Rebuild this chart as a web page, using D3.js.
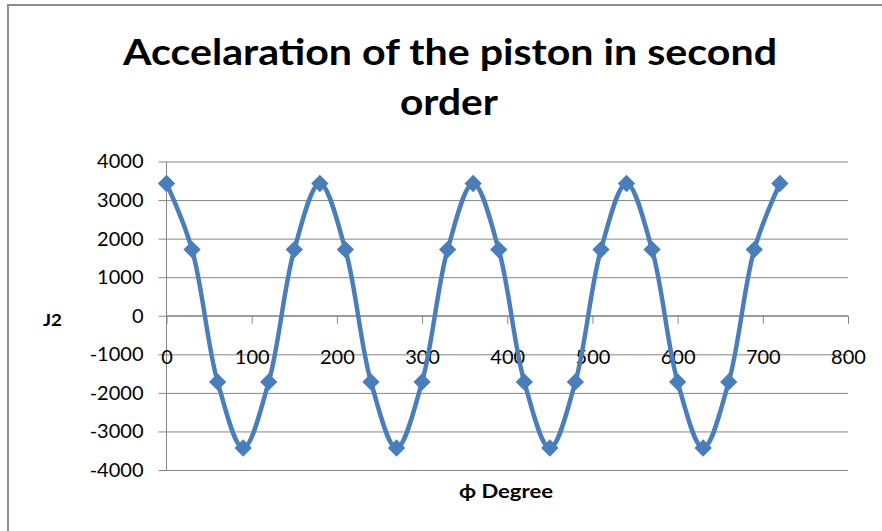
<!DOCTYPE html>
<html>
<head>
<meta charset="utf-8">
<script src="https://cdn.jsdelivr.net/npm/d3@7"></script>
<style>
  html, body { margin: 0; padding: 0; background: #ffffff; }
  svg { display: block; }
  text { font-family: Lato, "Open Sans", sans-serif; fill: #000; }
</style>
</head>
<body>
<svg id="chart" width="882" height="531"></svg>
<script>
// ---- data ----
const titleLines = ["Accelaration of the piston in second", "order"];
const xLabel = "\u03D5 Degree";
const yLabel = "J2";
const angles = [0, 30, 60, 90, 120, 150, 180, 210, 240, 270, 300, 330, 360,
                390, 420, 450, 480, 510, 540, 570, 600, 630, 660, 690, 720];
const j2 = [3430, 1715, -1715, -3430, -1715, 1715, 3430, 1715, -1715, -3430, -1715, 1715, 3430,
            1715, -1715, -3430, -1715, 1715, 3430, 1715, -1715, -3430, -1715, 1715, 3430];
const xTicks = [0, 100, 200, 300, 400, 500, 600, 700, 800];
const yTicks = [-4000, -3000, -2000, -1000, 0, 1000, 2000, 3000, 4000];

const svg = d3.select("#chart");
const gridColor = "#868686";
const lineColor = "#4A7EBB";

// outer frame (only top & left visible)
svg.append("path")
  .attr("d", "M8,531 L8,5 L882,5")
  .attr("fill", "none")
  .attr("stroke", "#8c8c8c")
  .attr("stroke-width", 2);

const x = d3.scaleLinear().domain([0, 800]).range([166.5, 848]);
const y = d3.scaleLinear().domain([-4000, 4000]).range([470, 161.5]);
const fmt = d => String(d);

// y axis with gridlines
const yAxis = svg.append("g")
  .attr("transform", `translate(${x(0)},0)`)
  .call(d3.axisLeft(y).tickValues(yTicks).tickSize(-(x(800) - x(0))).tickPadding(0).tickFormat(fmt));
yAxis.select(".domain").remove();
yAxis.selectAll(".tick line").attr("stroke", gridColor).attr("x1", -8);
yAxis.selectAll(".tick text")
  .attr("x", -23)
  .attr("font-size", 20)
  .attr("font-family", "Lato, sans-serif")
  .attr("fill", "#000");
// y axis line
svg.append("line")
  .attr("x1", x(0)).attr("x2", x(0))
  .attr("y1", y(4000)).attr("y2", y(-4000))
  .attr("stroke", gridColor);

// x axis at y=0
const xAxis = svg.append("g")
  .attr("transform", `translate(0,${y(0)})`)
  .call(d3.axisBottom(x).tickValues(xTicks).tickSize(8).tickPadding(26).tickFormat(fmt));
xAxis.select(".domain").attr("stroke", gridColor).attr("d", `M${x(0)},0H${x(800)}`);
xAxis.selectAll(".tick line").attr("stroke", gridColor);
xAxis.selectAll(".tick text")
  .attr("font-size", 20)
  .attr("font-family", "Lato, sans-serif")
  .attr("fill", "#000");

// series line
const pts = angles.map((a, i) => [a, j2[i]]);
const line = d3.line()
  .x(d => x(d[0]))
  .y(d => y(d[1]))
  .curve(d3.curveCatmullRom.alpha(0.5));
svg.append("path")
  .datum(pts)
  .attr("d", line)
  .attr("fill", "none")
  .attr("stroke", lineColor)
  .attr("stroke-width", 4.5)
  .attr("stroke-linejoin", "round");

// markers (diamonds)
const sym = d3.symbol().type(d3.symbolSquare).size(150);
svg.append("g").selectAll("path")
  .data(pts)
  .join("path")
  .attr("d", sym)
  .attr("transform", d => `translate(${x(d[0])},${y(d[1])}) rotate(45)`)
  .attr("fill", lineColor);

// title
svg.append("text")
  .attr("x", 450).attr("y", 65)
  .attr("text-anchor", "middle")
  .attr("font-size", 37).attr("font-weight", "bold")
  .attr("textLength", 654).attr("lengthAdjust", "spacingAndGlyphs")
  .text(titleLines[0]);
svg.append("text")
  .attr("x", 449).attr("y", 115)
  .attr("text-anchor", "middle")
  .attr("font-size", 37).attr("font-weight", "bold")
  .attr("textLength", 98).attr("lengthAdjust", "spacingAndGlyphs")
  .text(titleLines[1]);

// axis titles
svg.append("text")
  .attr("x", 52.5).attr("y", 326)
  .attr("text-anchor", "middle")
  .attr("font-size", 17).attr("font-weight", "bold")
  .attr("textLength", 19).attr("lengthAdjust", "spacingAndGlyphs")
  .text(yLabel);
svg.append("text")
  .attr("x", 506).attr("y", 498)
  .attr("text-anchor", "middle")
  .attr("font-size", 18).attr("font-weight", "bold")
  .attr("textLength", 94).attr("lengthAdjust", "spacingAndGlyphs")
  .text(xLabel);
</script>
</body>
</html>
